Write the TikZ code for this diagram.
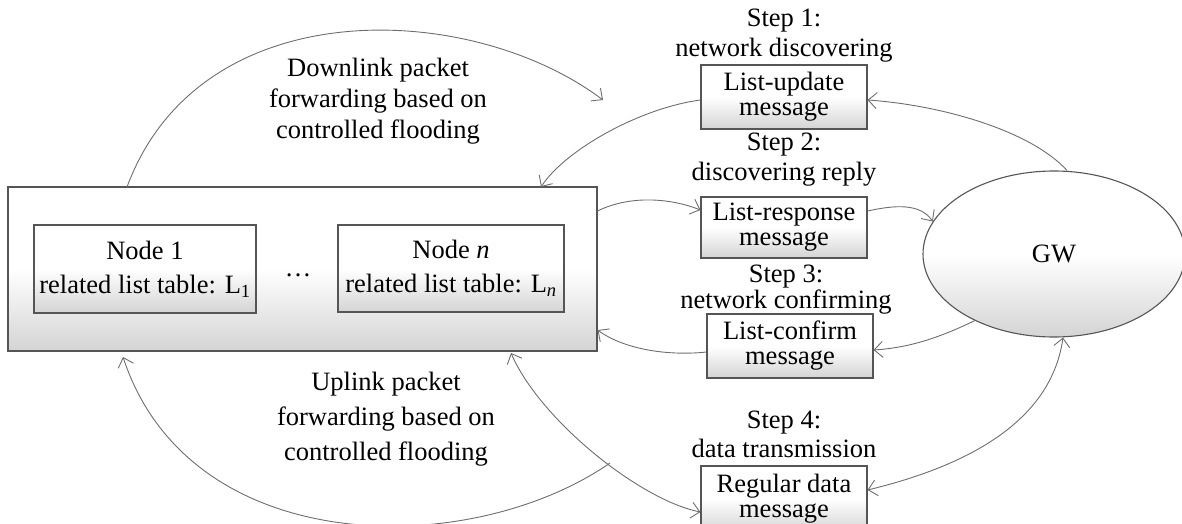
\documentclass[tikz,border=0pt]{standalone}
\usepackage{fontspec}
\setmainfont{Liberation Serif}
\usetikzlibrary{arrows.meta,shapes.geometric}
\definecolor{edgegray}{RGB}{85,85,85}
\definecolor{arrgray}{RGB}{110,110,110}
\definecolor{shadegray}{RGB}{212,212,212}
\begin{document}
\begin{tikzpicture}[x=1pt,y=-1pt,
  txt/.style={font=\fontsize{26.5}{25}\selectfont, text=black, inner sep=0pt},
  shadebox/.style={draw=edgegray, line width=1.1pt, rectangle, inner sep=0pt,
    top color=white, bottom color=shadegray, middle color=white,
    font=\fontsize{26.5}{25}\selectfont, align=center},
  msgbox/.style={shadebox, minimum width=166pt, minimum height=64pt},
  conn/.style={draw=arrgray, line width=0.9pt, -{Straight Barb[length=8.5pt,width=16pt]}},
  dconn/.style={draw=arrgray, line width=0.9pt, {Straight Barb[length=8.5pt,width=16pt]}-{Straight Barb[length=8.5pt,width=16pt]}}
]
\useasboundingbox (0,0) rectangle (1182,524);
\clip (0,0) rectangle (1182,524);

% big box with nodes
\node[shadebox, minimum width=589pt, minimum height=164pt] (big) at (302.5,269) {};
\node[shadebox, minimum width=222pt, minimum height=88pt] (n1) at (145,269)
  {Node 1\\[9pt]related list table: L\textsubscript{1}};
\node[shadebox, minimum width=226pt, minimum height=87pt] (nn) at (451,268.5)
  {Node \textit{n}\\[9pt]related list table: L\textsubscript{\textit{n}}};
\node[txt, anchor=base] (dots) at (298,276) {\dots};

% GW
\node[ellipse, draw=edgegray, line width=1.1pt, top color=white, bottom color=shadegray, middle color=white,
  minimum width=262pt, minimum height=166pt, inner sep=0pt, font=\fontsize{26.5}{25}\selectfont] (gw) at (1054,254) {GW};

% message boxes
\node[msgbox] (lu) at (784,97) {List-update\\message};
\node[msgbox, minimum height=61pt] (lr) at (784,227.5) {List-response\\message};
\node[msgbox] (lc) at (790,346) {List-confirm\\message};
\node[msgbox, minimum height=66pt] (rd) at (784,499) {Regular data\\message};

% step labels
\node[txt, anchor=base] (s1a) at (784,27) {Step 1:};
\node[txt, anchor=base] (s1b) at (784,57) {network discovering};
\node[txt, anchor=base] (s2a) at (784,150) {Step 2:};
\node[txt, anchor=base] (s2b) at (784,180) {discovering reply};
\node[txt, anchor=base] (s3a) at (786,282) {Step 3:};
\node[txt, anchor=base] (s3b) at (786,308) {network confirming};
\node[txt, anchor=base] (s4a) at (784,428) {Step 4:};
\node[txt, anchor=base] (s4b) at (784,457) {data transmission};

% flooding labels
\node[txt, align=center, font=\fontsize{26.5}{31}\selectfont] (down) at (378,101)
  {Downlink packet\\forwarding based on\\controlled flooding};
\node[txt, align=center, font=\fontsize{26.5}{35}\selectfont] (up) at (386,419)
  {Uplink packet\\forwarding based on\\controlled flooding};

% connector end points
\coordinate (dls) at (127,187);
\coordinate (dle) at (603,100);
\coordinate (uls) at (610,463);
\coordinate (ule) at (123,357);

% connectors
\draw[conn] (dls) .. controls (200,-10) and (470,0) .. (dle);
\draw[conn] (lu.west |- 0,100) .. controls (640,108) and (565,150) .. (541,187);
\draw[conn] (gw.north) ++(13,0) .. controls (1030,130) and (940,105) .. (lu.east |- 0,100);
\draw[conn] (big.east |- 0,211) .. controls (630,195) and (670,198) .. (lr.west |- 0,210);
\draw[conn] (lr.east |- 0,211) .. controls (895,205) and (920,203) .. (gw.165);
\draw[conn] (gw.220) .. controls (935,340) and (905,348) .. (lc.east |- 0,350);
\draw[conn] (lc.west |- 0,352) .. controls (670,356) and (625,350) .. (big.east |- 0,330);
\draw[dconn] (511,353) .. controls (540,420) and (640,500) .. (rd.west |- 0,512);
\draw[dconn] (gw.south) ++(9,0) .. controls (1050,430) and (950,470) .. (rd.east |- 0,490);
\draw[conn] (uls) .. controls (470,560) and (190,560) .. (ule);
\end{tikzpicture}
\end{document}
